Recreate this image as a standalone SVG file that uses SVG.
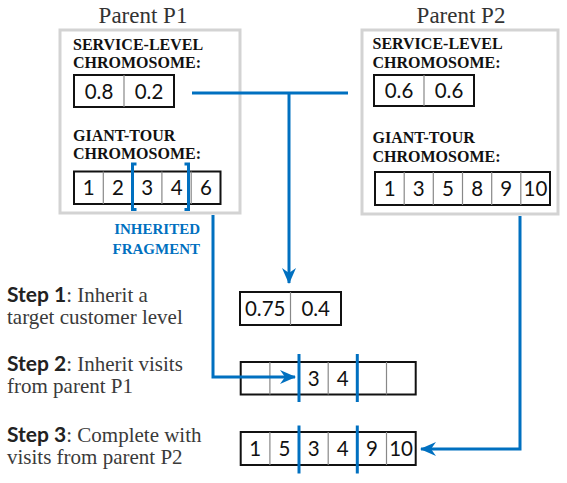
<svg xmlns="http://www.w3.org/2000/svg" width="567" height="483" viewBox="0 0 567 483">
<defs>
<marker id="arr" viewBox="0 0 16 14" refX="15" refY="7" markerWidth="16" markerHeight="14" markerUnits="userSpaceOnUse" orient="auto">
<path d="M0,0 L16,7 L0,14 L5,7 Z" fill="#0070C0"/>
</marker>
<style>
.par{fill:none;stroke:#d3d3d3;stroke-width:3}
.title{font-family:"Liberation Serif",serif;font-size:23px;fill:#333;text-anchor:middle}
.lab{font-family:"Liberation Serif",serif;font-weight:bold;font-size:16px;fill:#111}
.box{fill:#fff;stroke:#111;stroke-width:2}
.div{stroke:#888;stroke-width:1.2}
.num{font-family:Lato,"Liberation Sans",sans-serif;font-size:20.5px;fill:#111;text-anchor:middle}
.blue{fill:none;stroke:#0070C0;stroke-width:3}
.frag{font-family:"Liberation Serif",serif;font-weight:bold;font-size:15px;fill:#0070C0;text-anchor:end}
.step{font-family:"Liberation Serif",serif;font-size:21px;fill:#3a3a3a}
.sb{font-family:Lato,"Liberation Sans",sans-serif;font-weight:bold;fill:#222}
</style>
</defs>

<g id="parent-p1">
<rect class="par" x="60" y="30" width="180" height="183"/>
<text class="title" x="143" y="23">Parent P1</text>
<text class="lab" x="73" y="50">SERVICE-LEVEL</text>
<text class="lab" x="73" y="68">CHROMOSOME:</text>
<rect class="box" x="74" y="75" width="100" height="32"/>
<line class="div" x1="124" y1="75" x2="124" y2="107"/>
<text class="num" x="99" y="98.5">0.8</text>
<text class="num" x="149" y="98.5">0.2</text>
<text class="lab" x="73" y="140.5">GIANT-TOUR</text>
<text class="lab" x="73" y="159">CHROMOSOME:</text>
<rect class="box" x="74" y="171.5" width="146.5" height="32.5"/>
<line class="div" x1="103.3" y1="171.5" x2="103.3" y2="204"/>
<line class="div" x1="132.6" y1="171.5" x2="132.6" y2="204"/>
<line class="div" x1="161.9" y1="171.5" x2="161.9" y2="204"/>
<line class="div" x1="191.2" y1="171.5" x2="191.2" y2="204"/>
<text class="num" x="88.7" y="195">1</text>
<text class="num" x="118" y="195">2</text>
<text class="num" x="147.3" y="195">3</text>
<text class="num" x="176.6" y="195">4</text>
<text class="num" x="205.9" y="195">6</text>
<path class="blue" d="M136.5,164 H132.5 V209.5 H136.5"/>
<path class="blue" d="M184.5,164 H188.5 V209.5 H184.5"/>
</g>

<g id="parent-p2">
<rect class="par" x="362" y="30" width="196" height="184"/>
<text class="title" x="461" y="23">Parent P2</text>
<text class="lab" x="372.5" y="49">SERVICE-LEVEL</text>
<text class="lab" x="372.5" y="68">CHROMOSOME:</text>
<rect class="box" x="374" y="75" width="100" height="31"/>
<line class="div" x1="424" y1="75" x2="424" y2="106"/>
<text class="num" x="399" y="98">0.6</text>
<text class="num" x="449" y="98">0.6</text>
<text class="lab" x="372.5" y="142.5">GIANT-TOUR</text>
<text class="lab" x="372.5" y="161.5">CHROMOSOME:</text>
<rect class="box" x="375" y="172" width="175" height="33"/>
<line class="div" x1="404.2" y1="172" x2="404.2" y2="205"/>
<line class="div" x1="433.3" y1="172" x2="433.3" y2="205"/>
<line class="div" x1="462.5" y1="172" x2="462.5" y2="205"/>
<line class="div" x1="491.7" y1="172" x2="491.7" y2="205"/>
<line class="div" x1="520.8" y1="172" x2="520.8" y2="205"/>
<text class="num" x="389.6" y="196">1</text>
<text class="num" x="418.8" y="196">3</text>
<text class="num" x="447.9" y="196">5</text>
<text class="num" x="477.1" y="196">8</text>
<text class="num" x="506.2" y="196">9</text>
<text class="num" x="535.4" y="196">10</text>
</g>

<g id="fragment-label">
<text class="frag" x="200" y="234">INHERITED</text>
<text class="frag" x="200" y="254">FRAGMENT</text>
</g>

<g id="step1">
<text class="step" x="7" y="302"><tspan class="sb">Step 1</tspan>: Inherit a</text>
<text class="step" x="7" y="324">target customer level</text>
<rect class="box" x="240" y="292" width="101" height="33"/>
<line class="div" x1="290.5" y1="292" x2="290.5" y2="325"/>
<text class="num" x="265.2" y="316">0.75</text>
<text class="num" x="315.7" y="316">0.4</text>
</g>

<g id="step2">
<text class="step" x="7" y="371"><tspan class="sb">Step 2</tspan>: Inherit visits</text>
<text class="step" x="7" y="393">from parent P1</text>
<rect class="box" x="240.7" y="362" width="175" height="32.5"/>
<line class="div" x1="269.9" y1="362" x2="269.9" y2="394.5"/>
<line class="div" x1="328.2" y1="362" x2="328.2" y2="394.5"/>
<line class="div" x1="386.5" y1="362" x2="386.5" y2="394.5"/>
<text class="num" x="313.6" y="386">3</text>
<text class="num" x="342.8" y="386">4</text>
<line class="blue" x1="299" y1="354" x2="299" y2="402"/>
<line class="blue" x1="357.3" y1="354" x2="357.3" y2="402"/>
</g>

<g id="step3">
<text class="step" x="7" y="442"><tspan class="sb">Step 3</tspan>: Complete with</text>
<text class="step" x="7" y="464">visits from parent P2</text>
<rect class="box" x="240.7" y="432" width="175" height="33"/>
<line class="div" x1="269.9" y1="432" x2="269.9" y2="465"/>
<line class="div" x1="328.2" y1="432" x2="328.2" y2="465"/>
<line class="div" x1="386.5" y1="432" x2="386.5" y2="465"/>
<text class="num" x="255.3" y="456">1</text>
<text class="num" x="284.4" y="456">5</text>
<text class="num" x="313.6" y="456">3</text>
<text class="num" x="342.8" y="456">4</text>
<text class="num" x="371.9" y="456">9</text>
<text class="num" x="401.1" y="456">10</text>
<line class="blue" x1="299" y1="425.5" x2="299" y2="473.5"/>
<line class="blue" x1="357.3" y1="425.5" x2="357.3" y2="473.5"/>
</g>

<g id="connectors">
<line class="blue" x1="192" y1="93" x2="348" y2="93"/>
<path class="blue" d="M289,93 V283" marker-end="url(#arr)"/>
<path class="blue" d="M213,215 V377 H295" marker-end="url(#arr)"/>
<path class="blue" d="M520,216 V449 H421" marker-end="url(#arr)"/>
</g>
</svg>
